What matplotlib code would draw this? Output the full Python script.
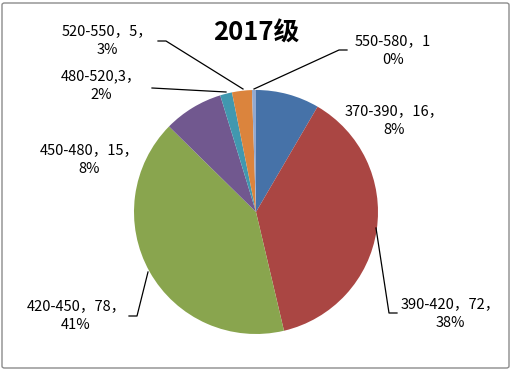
import matplotlib.pyplot as plt
from matplotlib.patches import FancyBboxPatch

plt.rcParams['font.family'] = ['Noto Sans CJK SC', 'DejaVu Sans']

ranges = ['370-390', '390-420', '420-450', '450-480', '480-520', '520-550', '550-580']
counts = [16, 72, 78, 15, 3, 5, 1]
pcts = ['8%', '38%', '41%', '8%', '2%', '3%', '0%']
labels = ['370-390，16，\n8%', '390-420，72，\n38%', '420-450，78，\n41%',
          '450-480，15，\n8%', '480-520,3，\n2%', '520-550，5，\n3%', '550-580，1\n0%']
colors = ['#4672A8', '#AA4643', '#89A54E', '#71588F', '#4198AF', '#DB843D', '#93A9CF']

W, H = 512, 370
fig = plt.figure(figsize=(W / 100, H / 100), dpi=100)
fig.patches.append(FancyBboxPatch((2 / W, 2 / H), 1 - 5 / W, 1 - 5 / H,
                                  boxstyle='round,pad=0,rounding_size=0.005',
                                  transform=fig.transFigure, fill=False,
                                  edgecolor='#8c8c8c', linewidth=1))

cx, cy, r = 256, 212, 122
ax = fig.add_axes([(cx - r) / W, (H - cy - r) / H, 2 * r / W, 2 * r / H])
ax.pie(counts, colors=colors, startangle=90, counterclock=False,
       wedgeprops=dict(linewidth=0))
ax.set_xlim(-1, 1)
ax.set_ylim(-1, 1)
ax.set_aspect('equal')
ax.axis('off')


def d(px, py):
    return ((px - cx) / r, (cy - py) / r)


# label text centers and leader lines (pixel coords of reference)
text_pos = [(394, 121), (450, 314), (76, 316), (89, 160), (101, 86), (107, 41), (393, 51)]
leaders = [None,
           [(376, 228), (389, 313), (397, 313)],
           [(148, 272), (137, 316), (129, 316)],
           None,
           [(226, 92), (152, 88)],
           [(243, 89), (166, 41), (158, 41)],
           [(254, 89), (339, 50), (347, 50)]]

for lab, tp, ld in zip(labels, text_pos, leaders):
    x, y = d(*tp)
    ax.text(x, y, lab, ha='center', va='center', fontsize=10.5,
            linespacing=1.45, clip_on=False)
    if ld:
        xs, ys = zip(*[d(*p) for p in ld])
        ax.plot(xs, ys, color='black', linewidth=0.9, clip_on=False)

fig.text(256 / W, 1 - 33 / H, '2017级', ha='center', va='center',
         fontsize=18.5, fontweight='bold')

fig.savefig('out.png', dpi=100)
